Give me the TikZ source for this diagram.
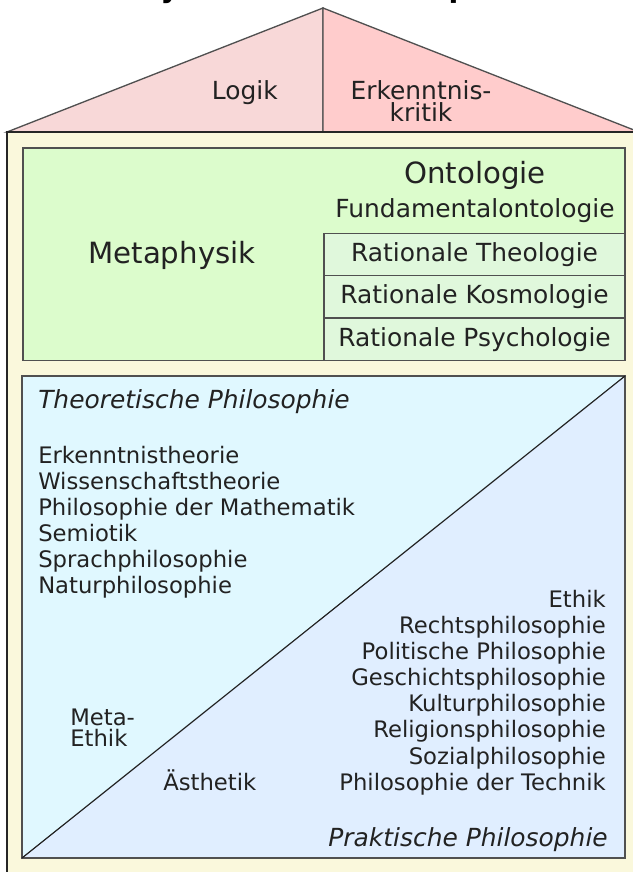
\documentclass[tikz,border=0pt]{standalone}
\usepackage{fontspec}
\setmainfont{DejaVu Sans}[BoldFont={DejaVu Sans Bold},ItalicFont={DejaVu Sans Oblique}]
\usetikzlibrary{positioning}

\definecolor{rooflogik}{RGB}{248,216,216}
\definecolor{roofkritik}{RGB}{255,204,204}
\definecolor{housecream}{RGB}{250,248,220}
\definecolor{metagreen}{RGB}{220,252,204}
\definecolor{subgreen}{RGB}{224,248,220}
\definecolor{theocyan}{RGB}{224,248,255}
\definecolor{praxblue}{RGB}{224,238,255}
\definecolor{boxgray}{RGB}{80,80,80}
\definecolor{inkgray}{RGB}{34,34,34}

\begin{document}
\begin{tikzpicture}[
    lbl/.style={inner sep=0pt,text=inkgray},
    listtext/.style={lbl,font=\fontsize{17.1}{18}\selectfont},
    midtext/.style={lbl,font=\fontsize{18.75}{19.5}\selectfont},
    bigtext/.style={lbl,font=\fontsize{22}{24}\selectfont},
    areatext/.style={lbl,font=\itshape\fontsize{18.75}{19.5}\selectfont},
    subbox/.style={rectangle,draw=boxgray,line width=1.2pt,fill=subgreen,
      minimum width=7.963cm,minimum height=1.12cm,inner sep=0pt,outer sep=0pt,
      text=inkgray,font=\fontsize{18.75}{19.5}\selectfont}
  ]
    \clip (0,0) rectangle (16.746,-23.069);

    % title, cut by the upper edge
    \node[lbl,text=black,font=\bfseries\fontsize{21.4}{24}\selectfont,anchor=base west] (title) at (3.704,0.071) {System der Philosophie};

    % roof
    \filldraw[fill=rooflogik,draw=boxgray,line width=1pt] (0.185,-3.492) -- (8.545,-0.212) -- (8.545,-3.492) -- cycle;
    \filldraw[fill=roofkritik,draw=boxgray,line width=1pt] (8.545,-0.212) -- (16.905,-3.492) -- (8.545,-3.492) -- cycle;
    \node[midtext,anchor=base east] (logik) at (7.354,-2.621) {Logik};
    \node[midtext,anchor=base] (erkenntnis) at (11.138,-2.621) {Erkenntnis-};
    \node[midtext,anchor=base] (kritik) at (11.138,-3.203) {kritik};

    % house
    \filldraw[fill=housecream,draw=black!85,line width=1pt] (0.185,-3.492) rectangle (16.905,-23.3);

    % metaphysik
    \filldraw[fill=metagreen,draw=boxgray,line width=1.2pt] (0.608,-3.915) rectangle (16.534,-9.533);
    \node[bigtext,anchor=base] (metaphysik) at (4.55,-6.979) {Metaphysik};
    \node[bigtext,anchor=base] (ontologie) at (12.566,-4.863) {Ontologie};
    \node[midtext,anchor=base] (fundamental) at (12.566,-5.743) {Fundamentalontologie};
    \node[subbox] (theologie) at (12.553,-6.733) {Rationale Theologie};
    \node[subbox,below=0pt of theologie] (kosmologie) {Rationale Kosmologie};
    \node[subbox,below=0pt of kosmologie] (psychologie) {Rationale Psychologie};

    % theoretische / praktische philosophie
    \coordinate (lowSW) at (0.582,-22.698);
    \coordinate (lowNW) at (0.582,-9.947);
    \coordinate (lowNE) at (16.534,-9.947);
    \coordinate (lowSE) at (16.534,-22.698);
    \fill[theocyan] (lowSW) -- (lowNW) -- (lowNE) -- cycle;
    \fill[praxblue] (lowSW) -- (lowNE) -- (lowSE) -- cycle;
    \draw[boxgray,line width=1.2pt] (lowNW) rectangle (lowSE);
    \draw[inkgray,line width=0.9pt] (lowSW) -- (lowNE);

    \node[areatext,anchor=base west] (theoretisch) at (1.005,-10.796) {Theoretische Philosophie};
    \node[listtext,anchor=base west] (erkth) at (1.005,-12.259) {Erkenntnistheorie};
    \node[listtext,anchor=base west] (wissth) at (1.005,-12.947) {Wissenschaftstheorie};
    \node[listtext,anchor=base west] (mathe) at (1.005,-13.635) {Philosophie der Mathematik};
    \node[listtext,anchor=base west] (semiotik) at (1.005,-14.323) {Semiotik};
    \node[listtext,anchor=base west] (sprache) at (1.005,-15.011) {Sprachphilosophie};
    \node[listtext,anchor=base west] (natur) at (1.005,-15.698) {Naturphilosophie};

    \node[listtext,anchor=base west] (meta) at (1.852,-19.190) {Meta-};
    \node[listtext,anchor=base west] (metaethik) at (1.852,-19.746) {Ethik};
    \node[listtext,anchor=base west] (aesthetik) at (4.312,-20.902) {Ästhetik};

    \node[listtext,anchor=base east] (ethik) at (16.032,-16.069) {Ethik};
    \node[listtext,anchor=base east] (recht) at (16.032,-16.759) {Rechtsphilosophie};
    \node[listtext,anchor=base east] (politik) at (16.032,-17.450) {Politische Philosophie};
    \node[listtext,anchor=base east] (geschichte) at (16.032,-18.140) {Geschichtsphilosophie};
    \node[listtext,anchor=base east] (kultur) at (16.032,-18.831) {Kulturphilosophie};
    \node[listtext,anchor=base east] (religion) at (16.032,-19.521) {Religionsphilosophie};
    \node[listtext,anchor=base east] (sozial) at (16.032,-20.212) {Sozialphilosophie};
    \node[listtext,anchor=base east] (technik) at (16.032,-20.902) {Philosophie der Technik};
    \node[areatext,anchor=base east] (praktisch) at (16.085,-22.383) {Praktische Philosophie};
\end{tikzpicture}
\end{document}
